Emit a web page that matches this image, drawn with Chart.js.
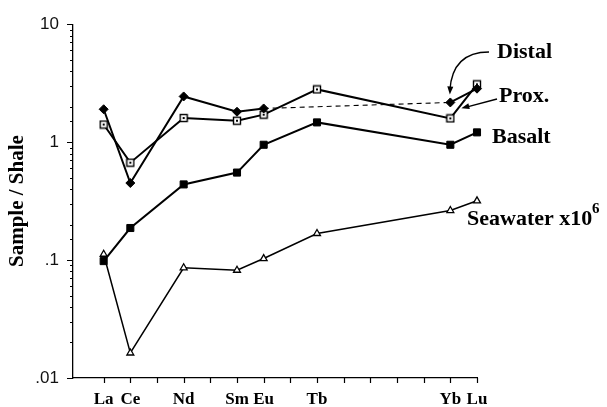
<!DOCTYPE html>
<html>
<head>
<meta charset="utf-8">
<script src="https://cdn.jsdelivr.net/npm/chart.js@4.4.1/dist/chart.umd.min.js"></script>
<style>
  html, body { margin: 0; padding: 0; background: #fff; }
  canvas { display: block; }
</style>
</head>
<body>
<canvas id="ree" width="607" height="407"></canvas>
<script>
// Rare earth elements in atomic order, one x tick each
const ELEMENTS = ['La','Ce','Pr','Nd','Pm','Sm','Eu','Gd','Tb','Dy','Ho','Er','Tm','Yb','Lu'];
// Elements that were analysed (and get a label on the x axis)
const MEASURED = ['La','Ce','Nd','Sm','Eu','Tb','Yb','Lu'];

// Shale-normalised abundances, listed in MEASURED order
const distal   = [1.90, 0.45, 2.44, 1.81, 1.93, null, 2.17, 2.84];
const prox     = [1.41, 0.67, 1.60, 1.52, 1.71, 2.80, 1.59, 3.09];
const basalt   = [0.098, 0.187, 0.438, 0.552, 0.95, 1.47, 0.95, 1.21];
const seawater = [0.112, 0.0163, 0.086, 0.082, 0.103, 0.168, 0.263, 0.318]; // scaled by 10^6

// Labelled decades on the log axis
const Y_TICK_VALUES = [0.01, 0.1, 1, 10];
const Y_TICK_LABELS = ['.01', '.1', '1', '10'];

const SERIF_BOLD = 'bold 22px "Liberation Serif", serif';

function toPoints(values) {
  return MEASURED.map((el, i) => ({ x: ELEMENTS.indexOf(el), y: values[i] }));
}

function isDecade(v) {
  return Y_TICK_VALUES.some(t => Math.abs(Math.log10(t) - Math.log10(v)) < 1e-6);
}

// Open square with a small centre dot
function dottedBox() {
  const c = document.createElement('canvas');
  c.width = 10; c.height = 10;
  const g = c.getContext('2d');
  g.fillStyle = '#fff';
  g.fillRect(1, 1, 8, 8);
  g.strokeStyle = '#000';
  g.lineWidth = 1.4;
  g.strokeRect(1.5, 1.5, 7, 7);
  g.fillStyle = '#000';
  g.fillRect(4, 4, 2, 2);
  return c;
}

// Axis tick marks: all elements on x, decades long / sub-decades short on y
const axisTicks = {
  id: 'axisTicks',
  afterDraw(chart) {
    const { ctx, scales: { x, y } } = chart;
    ctx.save();
    ctx.strokeStyle = '#000';
    ctx.lineWidth = 1.2;
    ctx.beginPath();
    x.ticks.forEach(t => {
      const px = Math.round(x.getPixelForValue(t.value)) + 0.5;
      ctx.moveTo(px, x.top);
      ctx.lineTo(px, x.top + 5);
    });
    y.ticks.forEach(t => {
      const py = Math.round(y.getPixelForValue(t.value)) + 0.5;
      ctx.moveTo(y.right, py);
      ctx.lineTo(y.right - (isDecade(t.value) ? 6 : 3), py);
    });
    ctx.stroke();
    ctx.restore();
  }
};

function arrowHead(ctx, fromX, fromY, toX, toY, len, half) {
  const a = Math.atan2(toY - fromY, toX - fromX);
  ctx.beginPath();
  ctx.moveTo(toX, toY);
  ctx.lineTo(toX - len * Math.cos(a) + half * Math.sin(a), toY - len * Math.sin(a) - half * Math.cos(a));
  ctx.lineTo(toX - len * Math.cos(a) - half * Math.sin(a), toY - len * Math.sin(a) + half * Math.cos(a));
  ctx.closePath();
  ctx.fill();
}

// Series names beside the Lu end of each curve, with pointer arrows
const seriesNames = {
  id: 'seriesNames',
  afterDraw(chart) {
    const { ctx, scales: { x, y } } = chart;
    const ybX = x.getPixelForValue(ELEMENTS.indexOf('Yb'));
    const luX = x.getPixelForValue(ELEMENTS.indexOf('Lu'));
    const iYb = MEASURED.indexOf('Yb');
    const iLu = MEASURED.indexOf('Lu');
    ctx.save();
    ctx.fillStyle = '#000';
    ctx.strokeStyle = '#000';
    ctx.textBaseline = 'alphabetic';
    ctx.textAlign = 'left';
    ctx.font = SERIF_BOLD;
    ctx.fillText('Distal', 497, 58);
    ctx.fillText('Prox.', 499, 102);
    ctx.fillText('Basalt', 492, 143);
    ctx.fillText('Seawater x10', 467, 225);
    ctx.font = 'bold 15px "Liberation Serif", serif';
    ctx.fillText('6', 592, 213);

    // curved arrow down onto the distal Yb point
    const dHeadX = ybX - 0.5;
    const dHeadY = y.getPixelForValue(distal[iYb]) - 8;
    const cX = ybX + 2, cY = 52;
    ctx.lineWidth = 1.4;
    ctx.beginPath();
    ctx.moveTo(489, 52);
    ctx.quadraticCurveTo(cX, cY, dHeadX, dHeadY - 4);
    ctx.stroke();
    arrowHead(ctx, cX, cY, dHeadX, dHeadY, 8, 3);

    // straight arrow onto the proximal Yb-Lu segment
    const t = 0.3;
    const pX = ybX + t * (luX - ybX) + 3;
    const pY = y.getPixelForValue(prox[iYb]) + t * (y.getPixelForValue(prox[iLu]) - y.getPixelForValue(prox[iYb]));
    ctx.beginPath();
    ctx.moveTo(497, 99);
    ctx.lineTo(pX + 5, pY - 1);
    ctx.stroke();
    arrowHead(ctx, 497, 99, pX, pY, 8, 3);
    ctx.restore();
  }
};

// Dashed, thinner link across an element that has no distal analysis
const acrossGap = (ctx, value) => (ctx.p0.skip || ctx.p1.skip ? value : undefined);

new Chart(document.getElementById('ree'), {
  type: 'line',
  data: {
    datasets: [
      {
        label: 'Distal',
        data: toPoints(distal),
        borderColor: '#000',
        borderWidth: 2,
        pointStyle: 'rectRot',
        pointRadius: 4.5,
        pointBackgroundColor: '#000',
        pointBorderColor: '#000',
        pointBorderWidth: 1,
        spanGaps: true,
        tension: 0,
        clip: false,
        segment: {
          borderDash: ctx => acrossGap(ctx, [5, 4]),
          borderWidth: ctx => acrossGap(ctx, 1.1)
        }
      },
      {
        label: 'Prox.',
        data: toPoints(prox),
        borderColor: '#000',
        borderWidth: 2,
        pointStyle: dottedBox(),
        pointRadius: 5,
        tension: 0,
        clip: false
      },
      {
        label: 'Basalt',
        data: toPoints(basalt),
        borderColor: '#000',
        borderWidth: 2,
        pointStyle: 'rect',
        pointRadius: 5,
        pointBackgroundColor: '#000',
        pointBorderColor: '#000',
        pointBorderWidth: 1,
        tension: 0,
        clip: false
      },
      {
        label: 'Seawater x10^6',
        data: toPoints(seawater),
        borderColor: '#000',
        borderWidth: 1.5,
        pointStyle: 'triangle',
        pointRadius: 4,
        pointBackgroundColor: '#fff',
        pointBorderColor: '#000',
        pointBorderWidth: 1.3,
        tension: 0,
        clip: false
      }
    ]
  },
  options: {
    responsive: false,
    animation: false,
    devicePixelRatio: 1,
    layout: { padding: { left: 0, right: 130, top: 21, bottom: 0 } },
    plugins: { legend: { display: false }, tooltip: { enabled: false } },
    scales: {
      x: {
        type: 'linear',
        min: -1.15,
        max: ELEMENTS.length - 1,
        afterBuildTicks: s => { s.ticks = ELEMENTS.map((e, i) => ({ value: i })); },
        afterFit: s => { s.height = 29; },
        grid: { display: false, drawTicks: false },
        border: { display: true, color: '#000', width: 1.3 },
        ticks: {
          autoSkip: false,
          maxRotation: 0,
          padding: 11,
          color: '#000',
          font: { family: '"Liberation Serif", serif', weight: 'bold', size: 17 },
          callback: v => (MEASURED.includes(ELEMENTS[v]) ? ELEMENTS[v] : '')
        }
      },
      y: {
        type: 'logarithmic',
        min: Y_TICK_VALUES[0],
        max: Y_TICK_VALUES[Y_TICK_VALUES.length - 1],
        afterFit: s => { s.width = 73; },
        grid: { display: false, drawTicks: false },
        border: { display: true, color: '#000', width: 1.3 },
        title: {
          display: true,
          text: 'Sample / Shale',
          color: '#000',
          font: { family: '"Liberation Serif", serif', weight: 'bold', size: 21 },
          padding: { top: 5, bottom: 0 }
        },
        ticks: {
          autoSkip: false,
          padding: 14,
          color: '#111',
          font: { family: '"Liberation Sans", Arial, sans-serif', size: 17 },
          callback: v => {
            const i = Y_TICK_VALUES.findIndex(t => Math.abs(Math.log10(t) - Math.log10(v)) < 1e-6);
            return i >= 0 ? Y_TICK_LABELS[i] : '';
          }
        }
      }
    }
  },
  plugins: [axisTicks, seriesNames]
});
</script>
</body>
</html>
